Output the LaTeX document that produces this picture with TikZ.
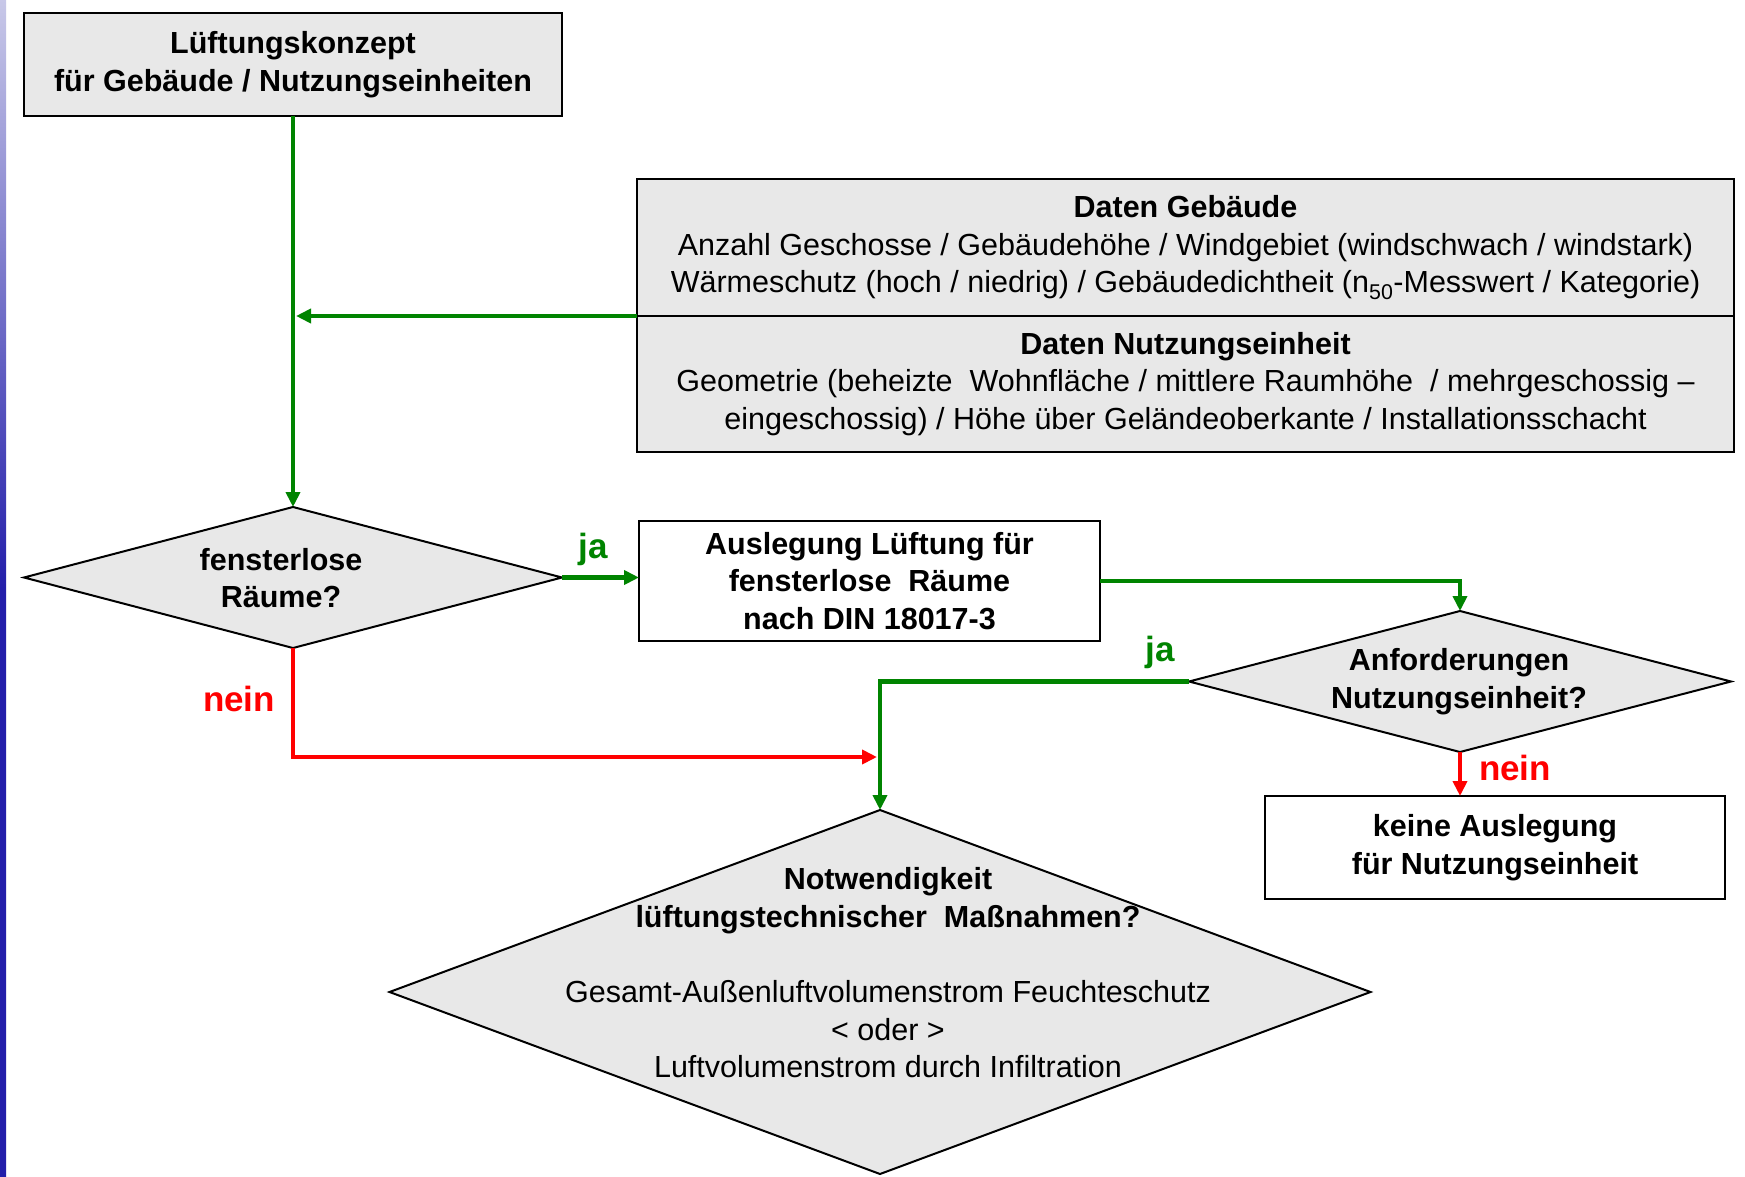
\documentclass[tikz,border=0pt]{standalone}
\usepackage{fontspec}
\setmainfont{Liberation Sans}
\usetikzlibrary{shapes.geometric,arrows.meta}
\definecolor{gfill}{RGB}{232,232,232}
\definecolor{ggreen}{RGB}{0,132,0}
\definecolor{rred}{RGB}{255,0,0}
\definecolor{stripblue}{RGB}{35,30,170}
\definecolor{striplight}{RGB}{200,200,232}
\newcommand\txtsize{\fontsize{30.5}{37.5}\selectfont}
\newcommand\lblsize{\fontsize{35}{40}\selectfont}
\begin{document}
\begin{tikzpicture}[x=1pt,y=-1pt,
  gbox/.style={draw=black,line width=2pt,fill=gfill,inner sep=0pt,outer sep=0pt,align=center,font=\txtsize},
  wbox/.style={draw=black,line width=2pt,fill=white,inner sep=0pt,outer sep=0pt,align=center,font=\txtsize\bfseries},
  dia/.style={shape=diamond,draw=black,line width=2pt,fill=gfill,inner sep=0pt,outer sep=0pt},
  dtxt/.style={align=center,font=\txtsize\bfseries,inner sep=0pt},
  lbl/.style={font=\lblsize\bfseries,inner sep=0pt},
  garrow/.style={draw=ggreen,line width=4.5pt,-{Triangle[length=15pt,width=14pt]}},
  rarrow/.style={draw=rred,line width=4.5pt,-{Triangle[length=15pt,width=14pt]}}
]
\useasboundingbox (0,0) rectangle (1745,1177);
\fill[white] (0,0) rectangle (1745,1177);
\fill[top color=striplight,bottom color=stripblue,middle color=stripblue] (0,0) rectangle (6,1177);

% boxes
\node[gbox,font=\txtsize\bfseries,minimum width=538pt,minimum height=103pt] (top) at (293,64.5)
  {Lüftungskonzept\\für Gebäude / Nutzungseinheiten};
\node[gbox,minimum width=1097pt,minimum height=137pt] (dg) at (1185.5,247.5)
  {\textbf{Daten Gebäude}\\Anzahl Geschosse / Gebäudehöhe / Windgebiet (windschwach / windstark)\\Wärmeschutz (hoch / niedrig) / Gebäudedichtheit (n\textsubscript{50}-Messwert / Kategorie)};
\node[gbox,minimum width=1097pt,minimum height=136pt] (dn) at (1185.5,384)
  {\textbf{Daten Nutzungseinheit}\\Geometrie (beheizte\ \ Wohnfläche / mittlere Raumhöhe\ \ / mehrgeschossig --\\eingeschossig) / Höhe über Geländeoberkante / Installationsschacht};

\node[dia,minimum width=538pt,minimum height=141pt] (d1) at (293,577.5) {};
\node[dtxt] (d1t) at (281,578) {fensterlose\\Räume?};

\node[wbox,minimum width=461pt,minimum height=120pt] (ausl) at (869.5,581)
  {Auslegung Lüftung für\\fensterlose\ \ Räume\\nach DIN 18017-3};

\node[dia,minimum width=542pt,minimum height=141pt] (d2) at (1460,681.5) {};
\node[dtxt] (d2t) at (1459,681.5) {Anforderungen\\Nutzungseinheit?};

\node[wbox,minimum width=460pt,minimum height=103pt] (keine) at (1495,847.5)
  {keine Auslegung\\für Nutzungseinheit};

\node[dia,minimum width=981pt,minimum height=364pt] (d3) at (880,992) {};
\node[align=center,font=\txtsize,inner sep=0pt] (d3t) at (888,973)
  {\textbf{Notwendigkeit}\\\textbf{lüftungstechnischer\ \ Maßnahmen?}\\[38pt]Gesamt-Außenluftvolumenstrom Feuchteschutz\\< oder >\\Luftvolumenstrom durch Infiltration};

% connectors
\coordinate (rjoin) at (877,757);
\coordinate (djoin) at (296,316);
\draw[garrow] (top.south) -- (d1.north);
\draw[garrow] (dg.south west) -- (djoin);
\draw[garrow] (d1.east) -- (d1.east -| ausl.west);
\draw[garrow] (ausl.east) -| (d2.north);
\draw[garrow] (d2.west) -| (d3.north);
\draw[rarrow] (d1.south) |- (rjoin);
\draw[rarrow] (d2.south) -- (d2.south |- keine.north);

% labels
\node[lbl,text=ggreen] (ja1) at (593,549) {ja};
\node[lbl,text=rred] (nein1) at (239,699) {nein};
\node[lbl,text=ggreen] (ja2) at (1160,652) {ja};
\node[lbl,text=rred] (nein2) at (1515,768) {nein};
\end{tikzpicture}
\end{document}
